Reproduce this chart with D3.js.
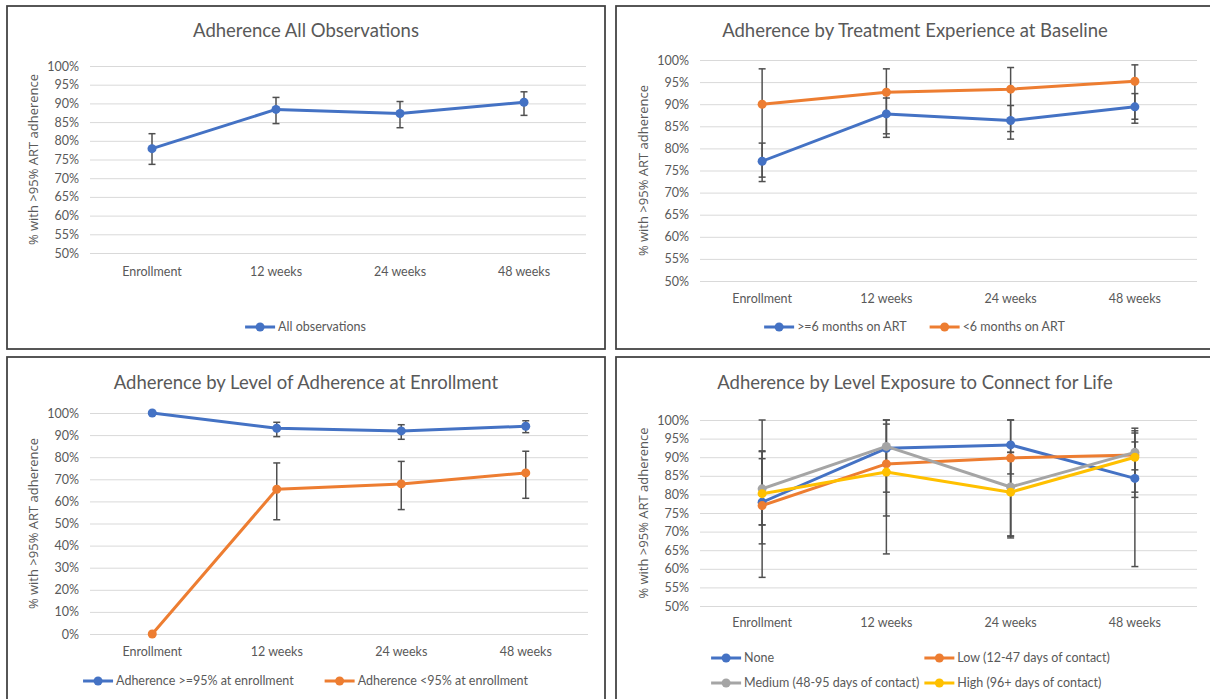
<!DOCTYPE html>
<html>
<head>
<meta charset="utf-8">
<script src="https://cdn.jsdelivr.net/npm/d3@7"></script>
<style>
  html, body { margin: 0; padding: 0; background: #ffffff; }
  svg { display: block; }
  .lbl { font-family: Lato, "Liberation Sans", sans-serif; fill: #595959; }
  .ytitle { font-family: "Open Sans", "DejaVu Sans", sans-serif; fill: #595959; }
</style>
</head>
<body>
<svg id="chart" width="1210" height="699"></svg>
<script>
// ---- data ----
const categories = ["Enrollment", "12 weeks", "24 weeks", "48 weeks"];
const ticksFive = [50, 55, 60, 65, 70, 75, 80, 85, 90, 95, 100];
const ticksTen = [0, 10, 20, 30, 40, 50, 60, 70, 80, 90, 100];
const yAxisTitle = "% with >95% ART adherence";

// Panel 1: all observations
const allObs      = [77.9, 88.4, 87.3, 90.3];
const allObsLo    = [73.7, 84.6, 83.5, 86.8];
const allObsHi    = [81.9, 91.6, 90.5, 93.1];

// Panel 2: treatment experience at baseline
const artLong     = [77.1, 87.8, 86.3, 89.4];
const artLongLo   = [72.5, 83.3, 82.1, 85.7];
const artLongHi   = [81.2, 91.4, 89.7, 92.4];
const artShort    = [90.0, 92.7, 93.4, 95.2];
const artShortLo  = [73.5, 82.5, 83.8, 86.6];
const artShortHi  = [98.0, 98.0, 98.3, 98.9];

// Panel 3: adherence level at enrollment
const adhHigh     = [100, 93.1, 91.9, 94.0];
const adhHighLo   = [null, 89.3, 88.1, 91.1];
const adhHighHi   = [null, 95.8, 94.7, 96.5];
const adhLow      = [0, 65.5, 67.9, 72.9];
const adhLowLo    = [null, 51.7, 56.3, 61.4];
const adhLowHi    = [null, 77.4, 78.1, 82.7];

// Panel 4: exposure to Connect for Life
const cflNone     = [77.9, 92.4, 93.3, 84.3];
const cflNoneLo   = [57.7, 64.0, 85.5, 60.6];
const cflNoneHi   = [100, 100, 100, 97.8];
const cflLow      = [77.0, 88.2, 89.8, 90.6];
const cflLowLo    = [66.7, 74.2, 68.8, 80.6];
const cflLowHi    = [91.5, 98.9, 100, 96.5];
const cflMed      = [81.5, 92.9, 82.0, 91.3];
const cflMedLo    = [71.8, 85.8, 68.3, 79.2];
const cflMedHi    = [91.7, 100, 91.3, 97.1];
const cflHigh     = [80.2, 86.0, 80.6, 90.0];
const cflHighLo   = [71.8, 80.6, 68.8, 86.6];
const cflHighHi   = [89.6, 93.0, 91.3, 94.1];

// ---- styling ----
const C = { blue: "#4472C4", orange: "#ED7D31", gray: "#A5A5A5", yellow: "#FFC000" };
const GRID = "#D9D9D9", ERR = "#505050", BORDER = "#3F3F3F";
const FONT = "Lato, 'Liberation Sans', sans-serif";

const svg = d3.select("#chart");

function panel(cfg) {
  const g = svg.append("g").attr("transform", `translate(${cfg.x},${cfg.y})`);
  const W = 598, H = 343;

  const x = d3.scaleBand().domain(categories).range([cfg.left, cfg.right]);
  const y = d3.scaleLinear().domain(cfg.domain).range([cfg.bottom, cfg.top]);
  const cx = c => x(c) + x.bandwidth() / 2;

  // title
  g.append("text").attr("class", "lbl")
    .attr("x", W / 2).attr("y", cfg.titleY)
    .attr("text-anchor", "middle").attr("font-size", 18.5)
    .text(cfg.title);

  // gridlines + tick labels through a left axis
  const yAxis = d3.axisLeft(y).tickValues(cfg.ticks)
    .tickSize(-(cfg.right - cfg.left)).tickPadding(11)
    .tickFormat(d => d + "%");
  const ya = g.append("g").attr("transform", `translate(${cfg.left},0)`).call(yAxis);
  ya.select(".domain").remove();
  ya.selectAll(".tick line").attr("stroke", GRID).attr("stroke-width", 1);
  ya.selectAll(".tick text").attr("class", "lbl").attr("font-size", 12.5)
    .attr("fill", "#595959").attr("font-family", FONT);

  // category labels through a bottom axis
  const xAxis = d3.axisBottom(x).tickSize(0).tickPadding(cfg.catPad);
  const xa = g.append("g").attr("transform", `translate(0,${cfg.bottom})`).call(xAxis);
  xa.select(".domain").remove();
  xa.selectAll(".tick text").attr("class", "lbl").attr("font-size", 12.5)
    .attr("fill", "#595959").attr("font-family", FONT);

  // y-axis title
  g.append("text").attr("class", "ytitle")
    .attr("transform", `translate(${cfg.yTitleX},${(cfg.top + cfg.bottom) / 2}) rotate(-90)`)
    .attr("text-anchor", "middle").attr("font-size", 13)
    .text(yAxisTitle);

  // error bars
  const eb = g.append("g");
  cfg.series.forEach(s => {
    categories.forEach((c, i) => {
      const lo = s.lo[i], hi = s.hi[i];
      if (lo == null || hi == null) return;
      const px = cx(c);
      eb.append("line").attr("x1", px).attr("x2", px)
        .attr("y1", y(lo)).attr("y2", y(hi))
        .attr("stroke", ERR).attr("stroke-width", 1.5);
      [lo, hi].forEach(v => {
        eb.append("line").attr("x1", px - 3.5).attr("x2", px + 3.5)
          .attr("y1", y(v)).attr("y2", y(v))
          .attr("stroke", ERR).attr("stroke-width", 1.5);
      });
    });
  });

  // lines + markers
  const line = d3.line().x((d, i) => cx(categories[i])).y(d => y(d));
  cfg.series.forEach(s => {
    g.append("path").datum(s.values)
      .attr("d", line).attr("fill", "none")
      .attr("stroke", s.color).attr("stroke-width", 3)
      .attr("stroke-linejoin", "round").attr("stroke-linecap", "round");
    g.append("g").selectAll("circle").data(s.values).join("circle")
      .attr("cx", (d, i) => cx(categories[i])).attr("cy", d => y(d))
      .attr("r", 4.5).attr("fill", s.color);
  });

  // legend laid out in columns, centred under the plot
  const leg = g.append("g");
  const rows = cfg.legendRows;
  const tmp = leg.append("text").attr("class", "lbl").attr("font-size", 12.5);
  const widthOf = t => { tmp.text(t); return tmp.node().getComputedTextLength(); };
  const nCols = d3.max(rows, r => r.length);
  const colW = d3.range(nCols).map(ci =>
    d3.max(rows, r => r[ci] != null ? 34 + widthOf(cfg.series[r[ci]].name) : 0));
  tmp.remove();
  const gap = cfg.legendGap;
  const total = d3.sum(colW) + gap * (nCols - 1);
  const startX = W / 2 - total / 2 + (cfg.legendShift || 0);
  rows.forEach((r, ri) => {
    let xx = startX;
    r.forEach((si, ci) => {
      const s = cfg.series[si];
      const ly = cfg.legendY + ri * cfg.legendRowH;
      const it = leg.append("g").attr("transform", `translate(${xx},${ly})`);
      it.append("line").attr("x1", 0).attr("x2", 30).attr("y1", 0).attr("y2", 0)
        .attr("stroke", s.color).attr("stroke-width", 3);
      it.append("circle").attr("cx", 15).attr("cy", 0).attr("r", 4.5).attr("fill", s.color);
      it.append("text").attr("class", "lbl").attr("x", 33).attr("y", 0)
        .attr("dy", "0.35em").attr("font-size", 12.5).text(s.name);
      xx += colW[ci] + gap;
    });
  });

  // frame
  g.append("rect").attr("x", 0).attr("y", 0).attr("width", W).attr("height", H)
    .attr("fill", "none").attr("stroke", BORDER).attr("stroke-width", 1.75);
}

panel({
  x: 7, y: 6, title: "Adherence All Observations", titleY: 31,
  left: 83, right: 579, top: 60, bottom: 247, domain: [50, 100], ticks: ticksFive,
  catPad: 14, yTitleX: 31, legendY: 321, legendRowH: 0, legendGap: 20,
  series: [{ name: "All observations", color: C.blue, values: allObs, lo: allObsLo, hi: allObsHi }],
  legendRows: [[0]]
});

panel({
  x: 616, y: 6, title: "Adherence by Treatment Experience at Baseline", titleY: 31,
  left: 84, right: 581, top: 54, bottom: 275, domain: [50, 100], ticks: ticksFive,
  catPad: 13, yTitleX: 32, legendY: 321, legendRowH: 0, legendGap: 22,
  series: [
    { name: ">=6 months on ART", color: C.blue, values: artLong, lo: artLongLo, hi: artLongHi },
    { name: "<6 months on ART", color: C.orange, values: artShort, lo: artShortLo, hi: artShortHi }
  ],
  legendRows: [[0, 1]]
});

panel({
  x: 7, y: 357, title: "Adherence by Level of Adherence at Enrollment", titleY: 32,
  left: 83, right: 581, top: 56, bottom: 277, domain: [0, 100], ticks: ticksTen,
  catPad: 13, yTitleX: 31, legendY: 324, legendRowH: 0, legendGap: 30,
  series: [
    { name: "Adherence >=95% at enrollment", color: C.blue, values: adhHigh, lo: adhHighLo, hi: adhHighHi },
    { name: "Adherence <95% at enrollment", color: C.orange, values: adhLow, lo: adhLowLo, hi: adhLowHi }
  ],
  legendRows: [[0, 1]]
});

panel({
  x: 616, y: 357, title: "Adherence by Level Exposure to Connect for Life", titleY: 32,
  left: 84, right: 581, top: 63, bottom: 249, domain: [50, 100], ticks: ticksFive,
  catPad: 12, yTitleX: 32, legendY: 301, legendRowH: 25, legendGap: 4, legendShift: -4,
  series: [
    { name: "None", color: C.blue, values: cflNone, lo: cflNoneLo, hi: cflNoneHi },
    { name: "Low (12-47 days of contact)", color: C.orange, values: cflLow, lo: cflLowLo, hi: cflLowHi },
    { name: "Medium (48-95 days of contact)", color: C.gray, values: cflMed, lo: cflMedLo, hi: cflMedHi },
    { name: "High (96+ days of contact)", color: C.yellow, values: cflHigh, lo: cflHighLo, hi: cflHighHi }
  ],
  legendRows: [[0, 1], [2, 3]]
});
</script>
</body>
</html>
